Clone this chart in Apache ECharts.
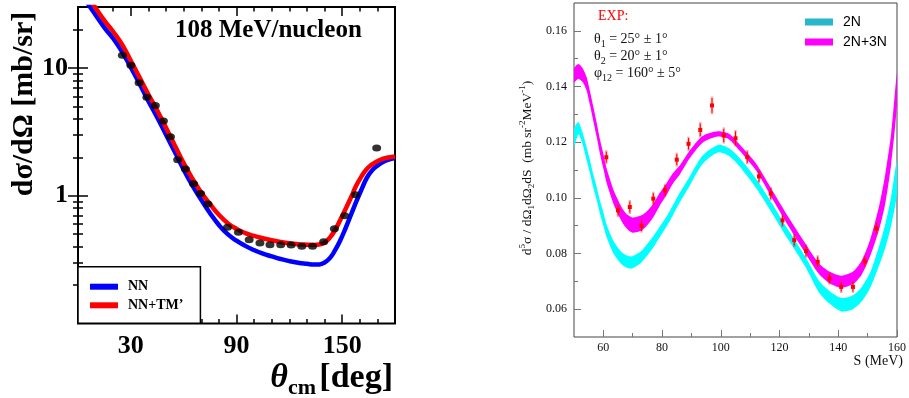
<!DOCTYPE html>
<html><head><meta charset="utf-8">
<script src="https://cdn.jsdelivr.net/npm/echarts@6/dist/echarts.min.js"></script>
<style>html,body{margin:0;padding:0;background:#fff}#c{width:909px;height:398px}</style>
</head><body><div id="c"></div>
<script>
// ---------- Left panel data ----------
const thetaExp = [25.2, 30, 34.7, 39.1, 43.9, 48.5, 52.5, 56.6, 61, 65.6, 69.6, 73.8, 84.9, 91.1, 97.2, 103.3, 109, 115.1, 121, 127.1, 133.2, 139.5, 145.6, 151.5, 157.6, 169.6];
const xsExp = [12.6, 10.5, 7.67, 5.9, 5.08, 3.85, 2.89, 1.91, 1.62, 1.24, 1.04, 0.861, 0.566, 0.517, 0.453, 0.427, 0.414, 0.414, 0.412, 0.402, 0.402, 0.437, 0.552, 0.698, 1.02, 2.36];
const thetaCurve = [0, 5, 10, 15, 20, 25, 30, 35, 40, 45, 50, 55, 60, 65, 70, 75, 80, 85, 90, 95, 100, 105, 110, 115, 120, 125, 130, 134, 137, 140, 143, 146, 149, 152, 155, 158, 161, 164, 167, 170, 173, 176, 180];
const xsNN = [45, 33, 26, 20.7, 17.0, 13.4, 10.1, 7.5, 5.5, 4.1, 3.0, 2.2, 1.6, 1.2, 0.93, 0.73, 0.59, 0.5, 0.445, 0.405, 0.375, 0.352, 0.335, 0.32, 0.308, 0.299, 0.293, 0.289, 0.29, 0.3, 0.325, 0.375, 0.45, 0.56, 0.71, 0.9, 1.12, 1.38, 1.58, 1.72, 1.83, 1.91, 1.97];
const xsTM = [52, 38, 29.5, 23.5, 19.2, 15.3, 11.4, 8.4, 6.2, 4.65, 3.4, 2.47, 1.8, 1.36, 1.06, 0.86, 0.71, 0.61, 0.55, 0.51, 0.485, 0.465, 0.448, 0.435, 0.425, 0.418, 0.414, 0.412, 0.415, 0.43, 0.47, 0.54, 0.65, 0.79, 0.97, 1.2, 1.42, 1.62, 1.76, 1.86, 1.94, 1.99, 2.03];
const leftXMajor = [30, 90, 150];
const leftXMinor = [10, 20, 40, 50, 60, 70, 80, 100, 110, 120, 130, 140, 160, 170];
const leftYMajor = [1, 10];
const leftYMinor = [0.2, 0.3, 0.4, 0.5, 0.6, 0.7, 0.8, 0.9, 2, 3, 4, 5, 6, 7, 8, 9, 20];

// ---------- Right panel data ----------
const sExp = [61, 65, 69, 73, 77, 81, 85, 89, 93, 97, 101, 105, 109, 113, 117, 121, 125, 129, 133, 137, 141, 145, 149, 153];
const d5Exp = [0.1146, 0.0955, 0.0967, 0.0899, 0.0997, 0.1027, 0.1137, 0.1194, 0.1244, 0.1332, 0.1224, 0.1214, 0.1146, 0.1077, 0.1015, 0.0919, 0.0848, 0.0809, 0.0770, 0.0710, 0.0680, 0.0680, 0.0772, 0.0890];
const d5Err = [0.0025, 0.0024, 0.0025, 0.0024, 0.0025, 0.0024, 0.0025, 0.0026, 0.0028, 0.0032, 0.0029, 0.0030, 0.0026, 0.0025, 0.0025, 0.0024, 0.0025, 0.0025, 0.0024, 0.0022, 0.0022, 0.0022, 0.0022, 0.0024];
const sBand = [50, 51.5, 53, 54.3, 55.4, 56.5, 57.7, 58.8, 60, 61, 62.2, 63.3, 64.5, 65.6, 66.7, 67.8, 69, 70, 71.2, 73, 74.6, 77, 79, 81.4, 83.6, 86, 89.3, 93.8, 99, 102.8, 106.2, 112, 117.5, 123, 128.8, 133.3, 137, 141, 145, 148, 151, 154, 156, 158, 160];
const band3NHigh = [0.1465, 0.1481, 0.1465, 0.1433, 0.1385, 0.1332, 0.1272, 0.1212, 0.1158, 0.1110, 0.1069, 0.1033, 0.1003, 0.0979, 0.0958, 0.0943, 0.0934, 0.0929, 0.0931, 0.0937, 0.0949, 0.0979, 0.1015, 0.1051, 0.1087, 0.1116, 0.1168, 0.1222, 0.1239, 0.1230, 0.1194, 0.1123, 0.1027, 0.0931, 0.0836, 0.0766, 0.0735, 0.0720, 0.0735, 0.0775, 0.0855, 0.0975, 0.1085, 0.1230, 0.1450];
const band3NLow = [0.1415, 0.1428, 0.1415, 0.1385, 0.1335, 0.1280, 0.1220, 0.1160, 0.1105, 0.1058, 0.1017, 0.0982, 0.0952, 0.0928, 0.0907, 0.0892, 0.0880, 0.0875, 0.0876, 0.0883, 0.0897, 0.0930, 0.0968, 0.1008, 0.1050, 0.1083, 0.1140, 0.1198, 0.1220, 0.1210, 0.1172, 0.1098, 0.0998, 0.0899, 0.0801, 0.0728, 0.0693, 0.0677, 0.0690, 0.0725, 0.0795, 0.0890, 0.0980, 0.1120, 0.1335];
const band2NHigh = [0.1248, 0.1272, 0.1232, 0.1182, 0.1137, 0.1087, 0.1040, 0.0991, 0.0948, 0.0907, 0.0875, 0.0848, 0.0828, 0.0812, 0.0801, 0.0794, 0.0790, 0.0790, 0.0797, 0.0810, 0.0830, 0.0862, 0.0893, 0.0931, 0.0972, 0.1018, 0.1075, 0.1152, 0.1190, 0.1178, 0.1146, 0.1069, 0.0979, 0.0884, 0.0788, 0.0704, 0.0665, 0.0640, 0.0650, 0.0680, 0.0735, 0.0830, 0.0905, 0.1003, 0.1134];
const band2NLow = [0.1182, 0.1228, 0.1190, 0.1135, 0.1090, 0.1040, 0.0993, 0.0945, 0.0900, 0.0862, 0.0830, 0.0803, 0.0783, 0.0768, 0.0757, 0.0750, 0.0746, 0.0747, 0.0754, 0.0768, 0.0788, 0.0822, 0.0855, 0.0895, 0.0936, 0.0983, 0.1042, 0.1122, 0.1163, 0.1150, 0.1115, 0.1035, 0.0944, 0.0849, 0.0752, 0.0662, 0.0620, 0.0592, 0.0600, 0.0628, 0.0680, 0.0760, 0.0820, 0.0900, 0.1016];
const rightXMajor = [60, 80, 100, 120, 140, 160];
const rightXMinor = [70, 90, 110, 130, 150];
const rightYMajor = [0.06, 0.08, 0.10, 0.12, 0.14, 0.16];
const rightYMinor = [0.07, 0.09, 0.11, 0.13, 0.15];

const SERIF = '"Liberation Serif", "DejaVu Serif", serif';
const SANS = '"Liberation Sans", Arial, sans-serif';

const chart = echarts.init(document.getElementById('c'), null, {renderer: 'canvas'});

function leftX(pos, ticks, len, labels) {
  return {
    type: 'value', gridIndex: 0, min: 0, max: 180, position: pos,
    axisLine: {show: false}, splitLine: {show: false},
    axisTick: {show: true, inside: true, length: len, customValues: ticks, lineStyle: {color: '#000', width: 1.5}},
    axisLabel: labels ? {show: true, customValues: leftXMajor, margin: 10,
      fontFamily: SERIF, fontWeight: 'bold', fontSize: 26, color: '#000'} : {show: false}
  };
}
function leftY(pos, ticks, len, labels) {
  return {
    type: 'log', logBase: 10, gridIndex: 0, min: 0.1, max: 30, position: pos,
    axisLine: {show: false}, splitLine: {show: false}, minorTick: {show: false},
    axisTick: {show: true, inside: true, length: len, customValues: ticks, lineStyle: {color: '#000', width: 1.5}},
    axisLabel: labels ? {show: true, customValues: leftYMajor, margin: 10,
      fontFamily: SERIF, fontWeight: 'bold', fontSize: 26, color: '#000'} : {show: false}
  };
}
function rightX(ticks, len, labels) {
  return {
    type: 'value', gridIndex: 1, min: 50, max: 160, position: 'bottom',
    axisLine: {show: false}, splitLine: {show: false},
    axisTick: {show: true, inside: true, length: len, customValues: ticks, lineStyle: {color: '#777', width: 1}},
    axisLabel: labels ? {show: true, customValues: rightXMajor, margin: 5,
      fontFamily: SERIF, fontSize: 12, color: '#111'} : {show: false}
  };
}
function rightY(ticks, len, labels) {
  return {
    type: 'value', gridIndex: 1, min: 0.05, max: 0.17, position: 'left',
    axisLine: {show: false}, splitLine: {show: false},
    axisTick: {show: true, inside: true, length: len, customValues: ticks, lineStyle: {color: '#777', width: 1}},
    axisLabel: labels ? {show: true, customValues: rightYMajor, margin: 7,
      formatter: v => v.toFixed(2), fontFamily: SERIF, fontSize: 12, color: '#111'} : {show: false}
  };
}

function band(name, low, high, color) {
  return {
    type: 'custom', name: name, xAxisIndex: 4, yAxisIndex: 4, clip: true,
    data: sBand.map((s, i) => [s, low[i], high[i]]),
    itemStyle: {color: color},
    renderItem: function (params, api) {
      if (params.dataIndex !== 0) return null;
      const top = sBand.map((s, i) => api.coord([s, high[i]]));
      const bot = sBand.map((s, i) => api.coord([s, low[i]])).reverse();
      return {type: 'polygon', shape: {points: top.concat(bot), smooth: 0.25}, style: {fill: color}};
    }
  };
}

const option = {
  animation: false,
  backgroundColor: '#fff',
  grid: [
    {left: 78, top: 7, width: 317, height: 316.5, show: true, borderColor: '#000', borderWidth: 2, backgroundColor: 'transparent'},
    {left: 574, top: 3, width: 325, height: 334, show: true, borderColor: '#444', borderWidth: 1, backgroundColor: 'transparent'}
  ],
  xAxis: [
    leftX('bottom', leftXMajor, 9, true),
    leftX('bottom', leftXMinor, 4.5, false),
    leftX('top', leftXMajor, 9, false),
    leftX('top', leftXMinor, 4.5, false),
    rightX(rightXMajor, 7, true),
    rightX(rightXMinor, 4, false)
  ],
  yAxis: [
    leftY('left', leftYMajor, 10, true),
    leftY('left', leftYMinor, 5, false),
    leftY('right', leftYMajor, 10, false),
    leftY('right', leftYMinor, 5, false),
    rightY(rightYMajor, 7, true),
    rightY(rightYMinor, 4, false)
  ],
  legend: [
    {
      left: 78, top: 266.7, orient: 'vertical',
      data: [{name: 'NN', icon: 'rect'}, {name: 'NN+TM’', icon: 'rect'}],
      itemWidth: 28, itemHeight: 6, itemGap: 4.6,
      padding: [13, 17, 11, 12],
      borderColor: '#000', borderWidth: 1.5, backgroundColor: '#fff', borderRadius: 0,
      selectedMode: false,
      textStyle: {fontFamily: SERIF, fontWeight: 'bold', fontSize: 14, color: '#000', padding: [0, 0, 0, 5]}
    },
    {
      left: 805, top: 15, orient: 'vertical',
      data: [{name: '2N', icon: 'rect', itemStyle: {color: '#27b7c9'}}, {name: '2N+3N', icon: 'rect', itemStyle: {color: '#ff00ff'}}],
      itemWidth: 28, itemHeight: 7, itemGap: 6, padding: 0,
      selectedMode: false,
      textStyle: {fontFamily: SANS, fontSize: 14, color: '#000', padding: [0, 0, 0, 5]}
    }
  ],
  graphic: [
    {type: 'text', x: 24, y: 104, rotation: Math.PI / 2, z: 10,
      style: {text: 'dσ/dΩ [mb/sr]', font: 'bold 30px ' + SERIF, fill: '#000', textAlign: 'center', textVerticalAlign: 'middle'}},
    {type: 'text', x: 175, y: 31, z: 10,
      style: {text: '108 MeV/nucleon', font: 'bold 25px ' + SERIF, fill: '#000', textAlign: 'left', textVerticalAlign: 'middle'}},
    {type: 'text', x: 393, y: 359, z: 10,
      style: {text: '{i|θ}{s|cm} {b|[deg]}', textAlign: 'right', textVerticalAlign: 'top',
        rich: {
          i: {font: 'italic bold 34px ' + SERIF, lineHeight: 38, fill: '#000'},
          s: {font: 'bold 22px ' + SERIF, lineHeight: 18, padding: [20, 0, 0, 0], fill: '#000'},
          b: {font: 'bold 34px ' + SERIF, lineHeight: 38, fill: '#000'}
        }}},
    {type: 'text', x: 527, y: 168, rotation: Math.PI / 2, z: 10,
      style: {text: 'd{sup|5}σ / dΩ{sub|1}dΩ{sub|2}dS  (mb sr{sup|-2}MeV{sup|-1})', textAlign: 'center', textVerticalAlign: 'middle',
        rich: {
          sup: {font: '9px ' + SERIF, lineHeight: 9, padding: [0, 0, 9, 0], fill: '#111'},
          sub: {font: '9px ' + SERIF, lineHeight: 9, padding: [9, 0, 0, 0], fill: '#111'}
        },
        font: '13.5px ' + SERIF, lineHeight: 18, fill: '#111'}},
    {type: 'text', x: 903, y: 361, z: 10,
      style: {text: 'S (MeV)', font: '14px ' + SERIF, fill: '#111', textAlign: 'right', textVerticalAlign: 'middle'}},
    {type: 'text', x: 598, y: 16.5, z: 10,
      style: {text: 'EXP:', font: '14px ' + SERIF, fill: '#ff0000', textAlign: 'left', textVerticalAlign: 'middle'}},
    {type: 'text', x: 594, y: 39, z: 10,
      style: {text: 'θ{sub|1} = 25° ± 1°', textAlign: 'left', textVerticalAlign: 'middle', font: '14px ' + SERIF, lineHeight: 20, fill: '#111',
        rich: {sub: {font: '10px ' + SERIF, lineHeight: 10, padding: [10, 0, 0, 0], fill: '#111'}}}},
    {type: 'text', x: 594, y: 56.5, z: 10,
      style: {text: 'θ{sub|2} = 20° ± 1°', textAlign: 'left', textVerticalAlign: 'middle', font: '14px ' + SERIF, lineHeight: 20, fill: '#111',
        rich: {sub: {font: '10px ' + SERIF, lineHeight: 10, padding: [10, 0, 0, 0], fill: '#111'}}}},
    {type: 'text', x: 594, y: 73.5, z: 10,
      style: {text: 'φ{sub|12} = 160° ± 5°', textAlign: 'left', textVerticalAlign: 'middle', font: '14px ' + SERIF, lineHeight: 20, fill: '#111',
        rich: {sub: {font: '10px ' + SERIF, lineHeight: 10, padding: [10, 0, 0, 0], fill: '#111'}}}}
  ],
  series: [
    {name: 'NN', type: 'line', xAxisIndex: 0, yAxisIndex: 0, smooth: true, symbol: 'none', clip: true,
      data: thetaCurve.map((t, i) => [t, xsNN[i]]), itemStyle: {color: '#0000ff'}, lineStyle: {color: '#0000ff', width: 4.5}},
    {name: 'NN+TM’', type: 'line', xAxisIndex: 0, yAxisIndex: 0, smooth: true, symbol: 'none', clip: true,
      data: thetaCurve.map((t, i) => [t, xsTM[i]]), itemStyle: {color: '#ff0000'}, lineStyle: {color: '#ff0000', width: 4.5}},
    {name: 'exp', type: 'scatter', xAxisIndex: 0, yAxisIndex: 0, symbol: 'circle', symbolSize: [9, 7],
      data: thetaExp.map((t, i) => [t, xsExp[i]]), itemStyle: {color: '#000'}, z: 5},
    band('2N', band2NLow, band2NHigh, '#00ffff'),
    band('2N+3N', band3NLow, band3NHigh, '#ff00ff'),
    {name: 'data', type: 'custom', xAxisIndex: 4, yAxisIndex: 4, z: 5,
      data: sExp.map((s, i) => [s, d5Exp[i], d5Err[i]]),
      renderItem: function (params, api) {
        const x = api.value(0), y = api.value(1), e = api.value(2);
        const p = api.coord([x, y]);
        const hi = api.coord([x, y + e]);
        const lo = api.coord([x, y - e]);
        return {type: 'group', children: [
          {type: 'line', shape: {x1: p[0], y1: hi[1], x2: p[0], y2: lo[1]}, style: {stroke: 'rgba(255,40,40,0.4)', lineWidth: 2.5}},
          {type: 'line', shape: {x1: p[0], y1: hi[1] + 1.5, x2: p[0], y2: lo[1] - 1.5}, style: {stroke: '#ff0000', lineWidth: 1}},
          {type: 'rect', shape: {x: p[0] - 2, y: p[1] - 2, width: 4, height: 4}, style: {fill: '#ff0000'}}
        ]};
      }}
  ]
};
chart.setOption(option);
</script>
</body></html>
